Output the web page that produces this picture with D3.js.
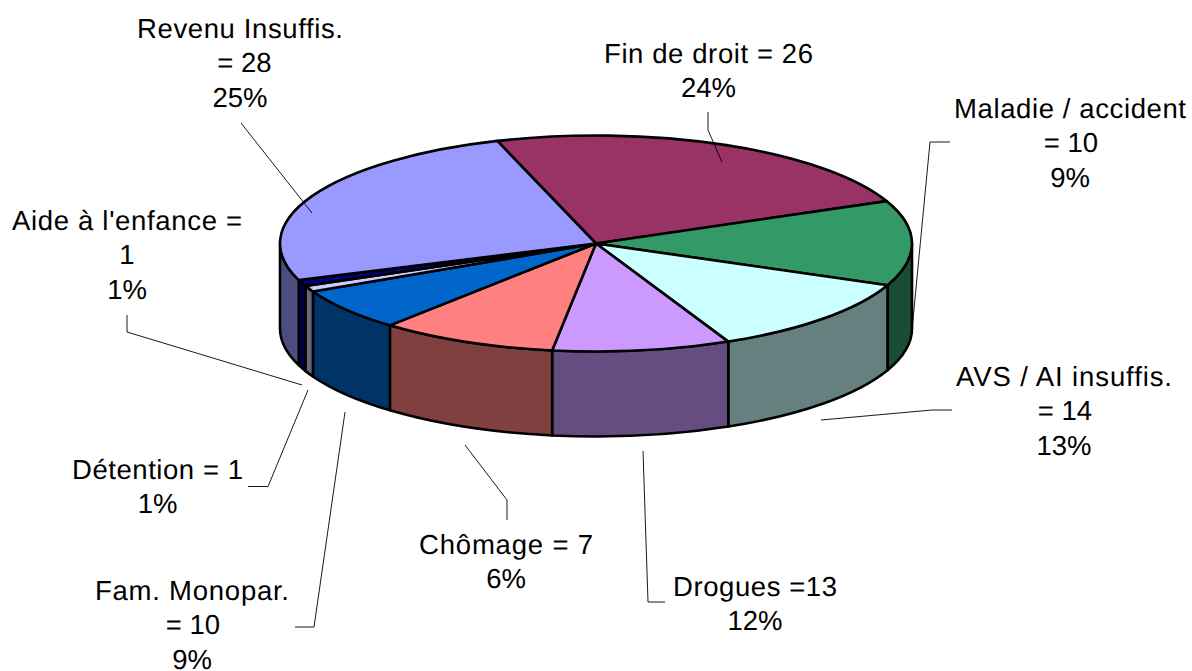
<!DOCTYPE html>
<html><head><meta charset="utf-8">
<script src="https://cdn.jsdelivr.net/npm/d3@7"></script>
<style>html,body{margin:0;background:#fff}svg{display:block}text{font-family:"Liberation Sans",Arial,sans-serif;font-size:27.5px;fill:#000;text-rendering:geometricPrecision}</style>
</head><body><svg id="c" width="1192" height="671"></svg>
<script>
// Slices in clockwise drawing order
const sliceNames  = ["Fin de droit","Vert","Cyan","Violet","Rose","Bleu","Lavande","Marine","Revenu Insuffis."];
const sliceValues = [26,14,13,10,10,7,1,1,28];
const topColors   = ["#993366","#339966","#CCFFFF","#CC99FF","#FF8080","#0066CC","#CCCCFF","#000080","#9999FF"];
const sideColors  = ["#4D1A33","#1A4D33","#668080","#664D80","#804040","#003366","#666680","#000040","#4D4D80"];
// Label texts
const labelLines = [
  ["Revenu Insuffis.","= 28","25%"],
  ["Fin de droit = 26","24%"],
  ["Maladie / accident","= 10","9%"],
  ["Aide à l'enfance =","1","1%"],
  ["AVS / AI insuffis.","= 14","13%"],
  ["Drogues =13","12%"],
  ["Chômage = 7","6%"],
  ["Fam. Monopar.","= 10","9%"],
  ["Détention = 1","1%"]
];
// Layout of annotations (label centre, first-line centre, first-line width, second-line nudge, leader path)
const labelLayout = [
  {x:240,y:28,w:206,dx2:4.5,lead:[[241,123],[312,213]]},
  {x:708.5,y:53,w:209,dx2:0,lead:[[708,112],[708,130],[722,162]]},
  {x:1070,y:108,w:232,dx2:1,lead:[[950,142],[930,142],[912,330]]},
  {x:127,y:220,w:230,dx2:0,lead:[[127,315],[127,332],[302,385]]},
  {x:1064,y:376,w:216,dx2:1,lead:[[952,410],[932,410],[821,420]]},
  {x:755,y:586,w:164,dx2:0,lead:[[665,602],[648,602],[643,451]]},
  {x:506,y:544,w:174,dx2:0,lead:[[507,520],[507,500],[465,445]]},
  {x:192,y:590,w:194,dx2:1,lead:[[295,627],[314,627],[345,412]]},
  {x:157.5,y:469,w:171,dx2:0,lead:[[248,486.5],[268,486.5],[308,390]]}
];
const cx=596, cy=243.5, rx=316, ry=108, depth=85, lh=34.7;
const startDeg=-18.2;
const svg=d3.select("#c");
const pie=d3.pie().sort(null).value(d=>d)
  .startAngle(startDeg*Math.PI/180).endAngle((startDeg+360)*Math.PI/180);
const arcs=pie(sliceValues);
const px=d3.scaleLinear().domain([-1,1]).range([cx-rx,cx+rx]);
const py=d3.scaleLinear().domain([-1,1]).range([cy-ry,cy+ry]);
const pt=(a,dz=0)=>[px(Math.sin(a)),py(-Math.cos(a))+dz];
const HP=Math.PI/2, TP=Math.PI*2;
const sideG=svg.append("g"), topG=svg.append("g");
function wall(a0,a1){
  const p0=pt(a0),p1=pt(a1),q1=pt(a1,depth),q0=pt(a0,depth);
  return `M${p0}A${rx},${ry} 0 0 1 ${p1}L${q1}A${rx},${ry} 0 0 0 ${q0}Z`;
}
arcs.forEach((d,i)=>{
  // clip each slice's angular span to the visible front half (90..270 deg)
  for(const k of [-1,0,1]){
    const a0=Math.max(d.startAngle+k*TP,HP), a1=Math.min(d.endAngle+k*TP,3*HP);
    if(a1>a0) sideG.append("path").attr("d",wall(a0,a1)).attr("fill",sideColors[i])
      .attr("stroke","#000").attr("stroke-width",2.6).attr("stroke-linejoin","round");
  }
});
const arcGen=d3.arc().innerRadius(0).outerRadius(rx);
topG.selectAll("path").data(arcs).join("path")
  .attr("transform",`translate(${cx},${cy}) scale(1,${ry/rx})`)
  .attr("d",arcGen).attr("fill",(d,i)=>topColors[i])
  .attr("stroke","#000").attr("stroke-width",2.6).attr("stroke-linejoin","round")
  .attr("vector-effect","non-scaling-stroke");
// leaders
const line=d3.line();
svg.append("g").selectAll("path").data(labelLayout).join("path")
  .attr("d",d=>line(d.lead)).attr("fill","none").attr("stroke","#000").attr("stroke-width",0.9);
// labels
const lg=svg.append("g").attr("text-anchor","middle");
labelLines.forEach((lines,i)=>{
  lines.forEach((t,j)=>{
    const el=lg.append("text").attr("x",labelLayout[i].x+(j===1?labelLayout[i].dx2:0))
      .attr("y",labelLayout[i].y+j*lh+9.5).text(t);
    if(j===0) el.attr("textLength",labelLayout[i].w).attr("lengthAdjust","spacing");
  });
});
</script></body></html>
